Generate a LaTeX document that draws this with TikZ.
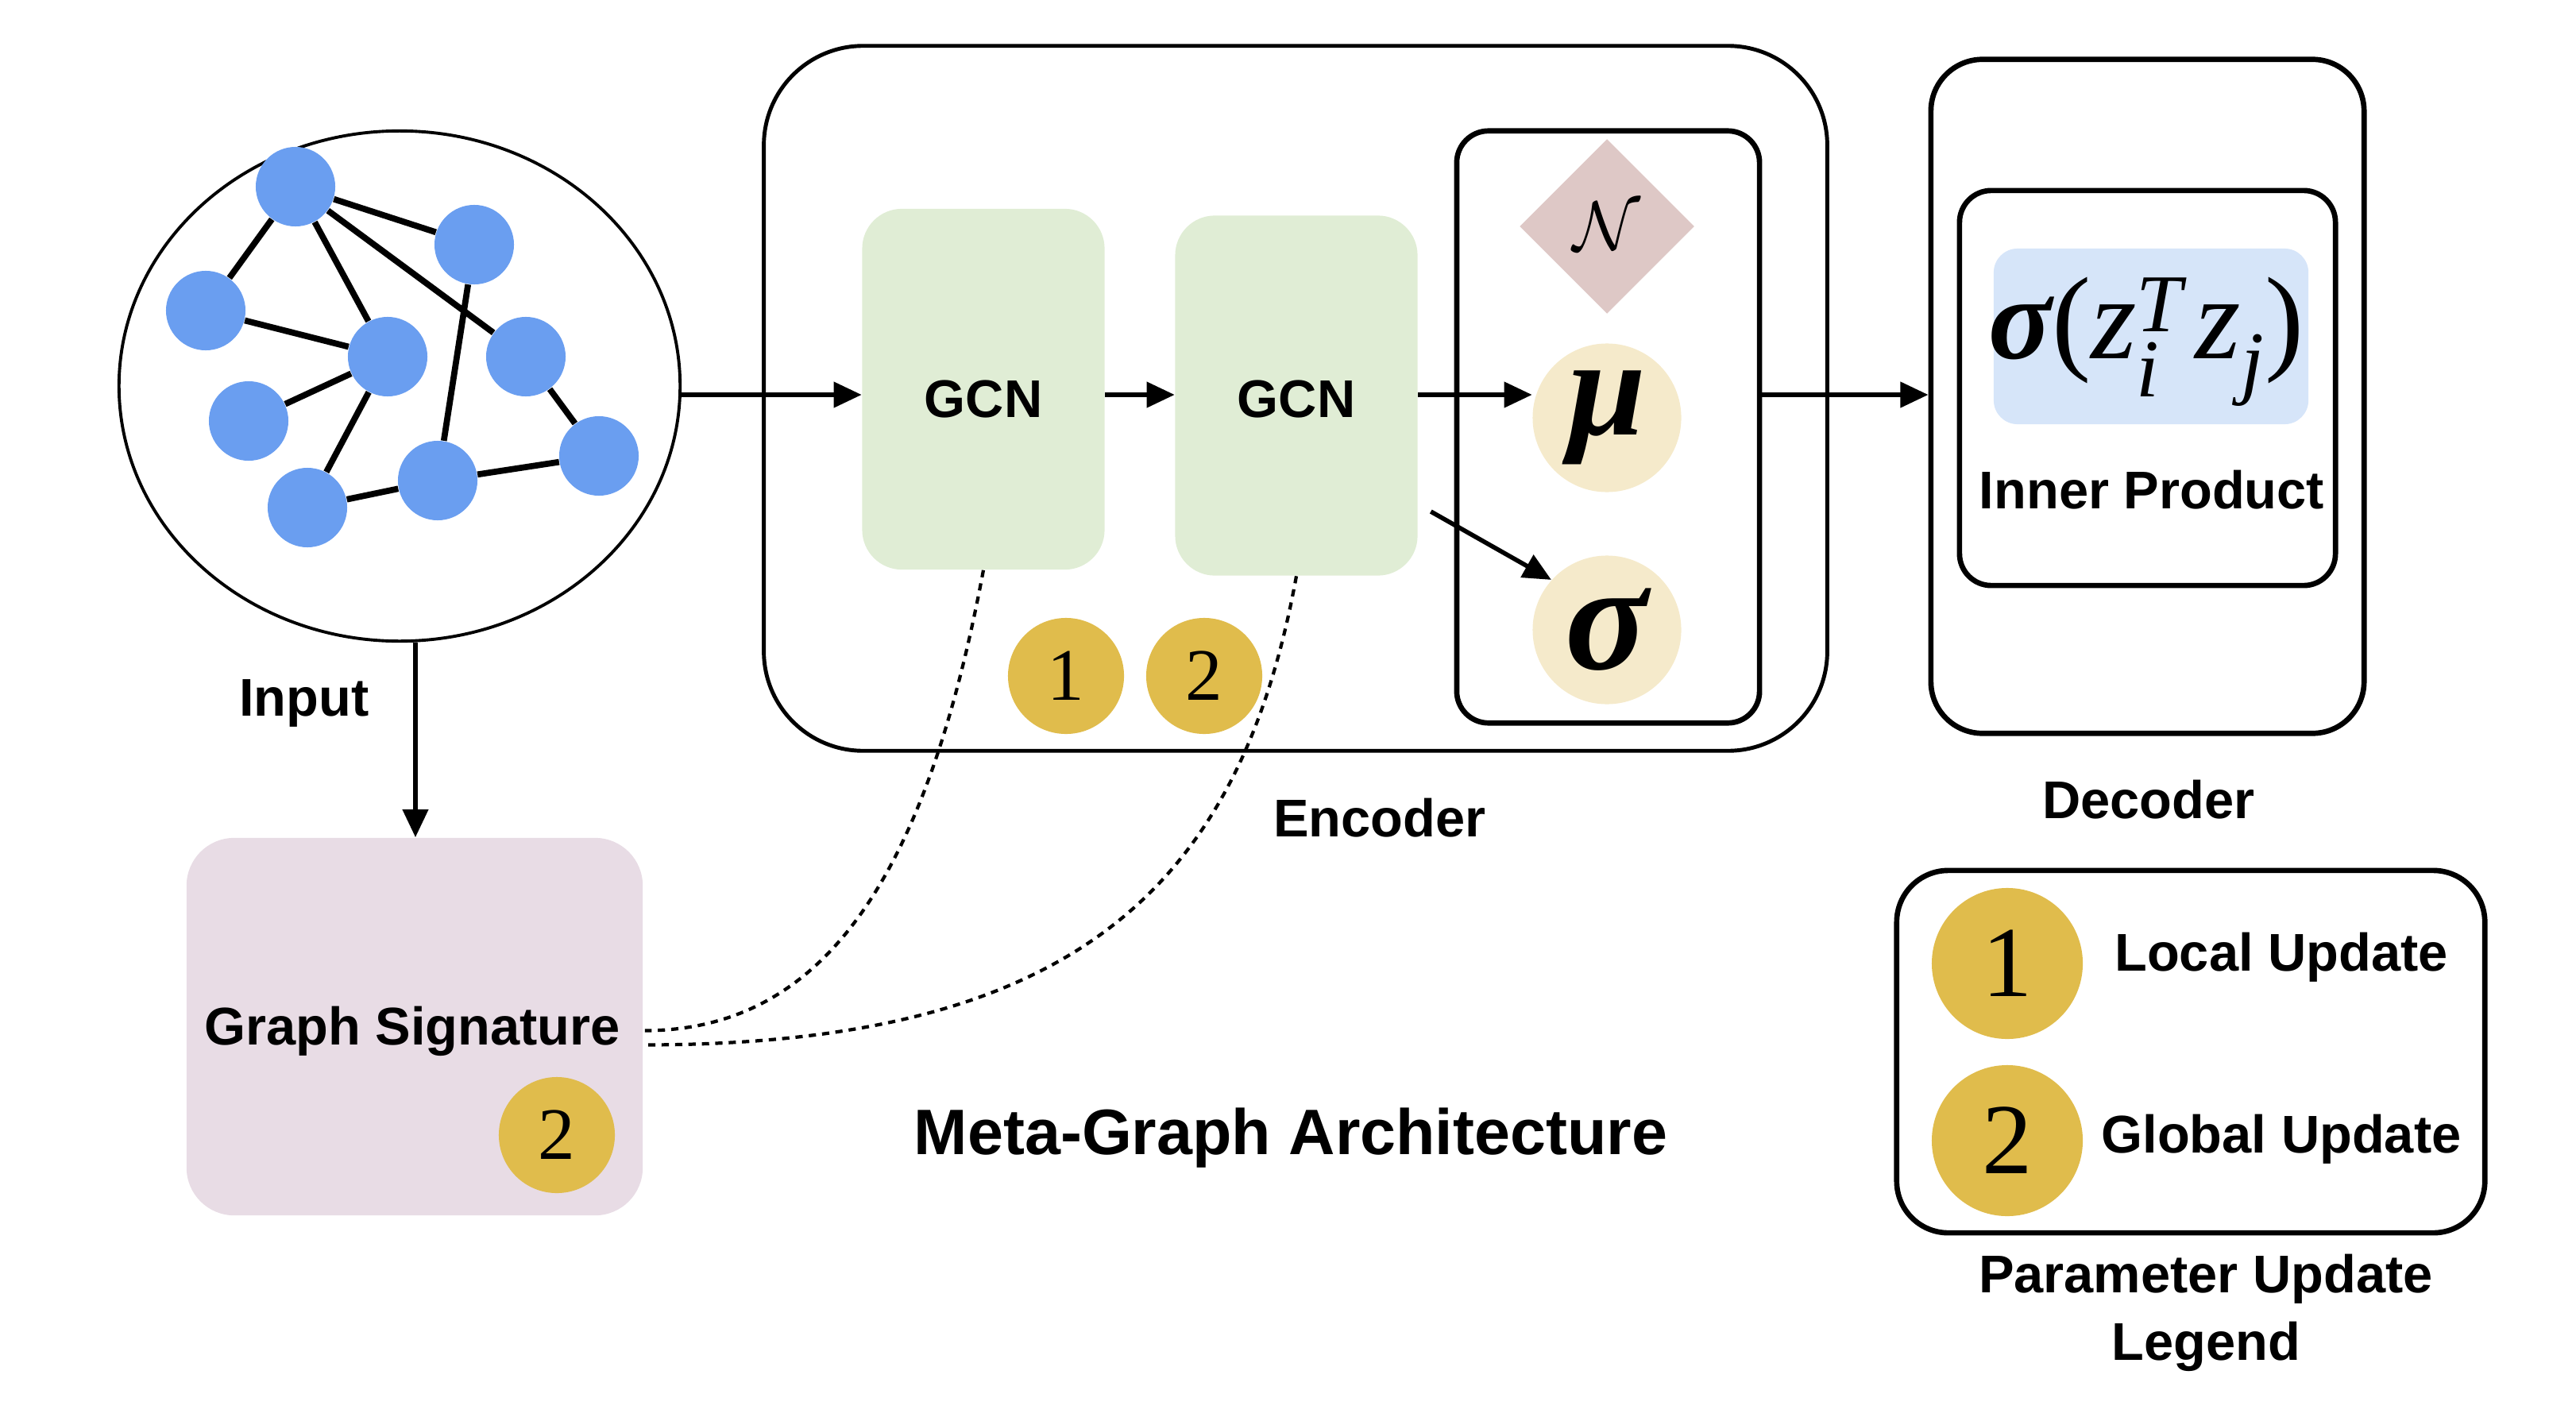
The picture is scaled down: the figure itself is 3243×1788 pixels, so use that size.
\documentclass[tikz,border=0pt]{standalone}
\usepackage{amsmath}
\usepackage{fontspec}
\setmainfont{Liberation Sans}
\newfontfamily\tms{Liberation Serif}
\usetikzlibrary{shapes.geometric,arrows.meta,calc}
\definecolor{nodeblue}{RGB}{106,158,240}
\definecolor{gcnfill}{RGB}{224,237,213}
\definecolor{gsfill}{RGB}{232,220,229}
\definecolor{badgec}{RGB}{224,188,76}
\definecolor{mufill}{RGB}{245,234,203}
\definecolor{nfill}{RGB}{222,200,198}
\definecolor{bluefill}{RGB}{214,229,249}
\newcommand\ti[1]{\text{\tms\itshape #1}}
\begin{document}
\begin{tikzpicture}[x=0.01cm,y=-0.01cm,
  gnode/.style={circle,fill=nodeblue,minimum size=1cm,inner sep=0},
  gedge/.style={line width=2.2pt},
  arr/.style={line width=1.6pt,-{Triangle[length=10pt,width=9pt]}},
  lab/.style={font=\fontsize{19pt}{23pt}\selectfont\bfseries,inner sep=0},
  badge/.style={circle,fill=badgec,inner sep=0,minimum size=1.46cm,font=\tms\fontsize{26.5pt}{30pt}\selectfont},
  bigbadge/.style={badge,minimum size=1.9cm,font=\tms\fontsize{36pt}{40pt}\selectfont},
  dsh/.style={line width=1.2pt,dash pattern=on 2.6pt off 2.2pt},
  gcnbox/.style={fill=gcnfill,rounded corners=0.5cm,minimum width=3.05cm,minimum height=4.54cm,inner sep=0},
  frame/.style={draw,line width=1.9pt,inner sep=0},
]
\useasboundingbox (0,0) rectangle (3243,1788);

% input graph
\node[ellipse,draw,line width=1.1pt,minimum width=7.06cm,minimum height=6.42cm,inner sep=0] (inp) at (503,486) {};
\node[gnode] (n1) at (372,235) {};
\node[gnode] (n2) at (597,308) {};
\node[gnode] (n3) at (259,391) {};
\node[gnode] (n4) at (488,449) {};
\node[gnode] (n5) at (662,449) {};
\node[gnode] (n6) at (313,530) {};
\node[gnode] (n7) at (754,574) {};
\node[gnode] (n8) at (387,639) {};
\node[gnode] (n9) at (551,605) {};
\foreach \a/\b in {n1/n3,n1/n2,n1/n4,n1/n5,n2/n9,n3/n4,n4/n6,n4/n8,n8/n9,n9/n7,n5/n7}
  \draw[gedge] (\a) -- (\b);
\node[lab] (inlab) at (383,885) {Input};

% encoder
\node[draw,line width=1.4pt,rounded corners=1.25cm,minimum width=13.38cm,minimum height=8.87cm,inner sep=0] (enc) at (1631,501.5) {};
\node[gcnbox] (g1) at (1238,490) {};
\node[lab] (g1t) at (1238,502) {GCN};
\node[gcnbox,minimum height=4.53cm] (g2) at (1632,498) {};
\node[lab] (g2t) at (1632,502) {GCN};
\node[frame,rounded corners=0.4cm,minimum width=3.81cm,minimum height=7.45cm] (ib) at (2024.5,537.5) {};
\node[diamond,fill=nfill,minimum width=2.2cm,minimum height=2.2cm,inner sep=0] (nn) at (2023,285) {\fontsize{34pt}{36pt}\selectfont$\mathcal{N}$};
\node[circle,fill=mufill,minimum size=1.87cm,inner sep=0] (mu) at (2023,526) {\tms\bfseries\itshape\fontsize{50pt}{52pt}\selectfont μ};
\node[circle,fill=mufill,minimum size=1.87cm,inner sep=0] (sig) at (2023,793) {\tms\bfseries\itshape\fontsize{55pt}{57pt}\selectfont σ};
\node[badge] (b1) at (1342,851) {1};
\node[badge] (b2) at (1516,851) {2};
\node[lab] (enclab) at (1737,1030) {Encoder};

% decoder
\node[frame,rounded corners=0.65cm,minimum width=5.45cm,minimum height=8.48cm] (dec) at (2703.5,499) {};
\node[frame,rounded corners=0.4cm,minimum width=4.73cm,minimum height=4.97cm] (ip) at (2703.5,488.5) {};
\node[fill=bluefill,rounded corners=0.3cm,minimum width=3.96cm,minimum height=2.21cm,inner sep=0] (fb) at (2708,423.5) {};
\node[inner sep=0] (form) at (2702,430) {\fontsize{42pt}{46pt}\selectfont$\text{\tms\bfseries\itshape σ}\text{\tms (}\ti{z}_{\ti{i}}^{\ti{T}}\,\ti{z}_{\ti{j}}\text{\tms )}$};
\node[lab] (iplab) at (2709,617) {Inner Product};
\node[lab] (declab) at (2705,1007) {Decoder};

% graph signature
\node[fill=gsfill,rounded corners=0.6cm,minimum width=5.74cm,minimum height=4.75cm,inner sep=0] (gs) at (522,1292.5) {};
\node[lab] (gslab) at (519,1298) {Graph Signature};
\node[badge] (b3) at (701,1429) {2};

% title
\node[font=\fontsize{23pt}{27pt}\selectfont\bfseries,inner sep=0] (title) at (1625,1433) {Meta-Graph Architecture};

% legend
\node[draw,line width=1.9pt,rounded corners=0.65cm,minimum width=7.40cm,minimum height=4.56cm,inner sep=0] (leg) at (2758,1324) {};
\node[bigbadge] (l1) at (2527,1213) {1};
\node[bigbadge] (l2) at (2527,1436) {2};
\node[lab] (l1t) at (2872,1205) {Local Update};
\node[lab] (l2t) at (2872,1434) {Global Update};
\node[lab,align=center,font=\fontsize{19pt}{24pt}\selectfont\bfseries] (legt) at (2777,1653) {Parameter Update\\Legend};

% arrows
\coordinate (ay) at (0,497);
\coordinate (ax) at (523,0);
\draw[arr] (inp.east |- ay) -- (g1.west |- ay);
\draw[arr] (g1.east |- ay) -- (g2.west |- ay);
\draw[arr] (g2.east |- ay) -- (mu.west |- ay);
\draw[arr] ($(g2.east)+(16,146)$) -- (sig.138);
\draw[arr] (ib.east |- ay) -- (dec.west |- ay);
\draw[arr] (inp.south -| ax) -- (gs.north -| ax);

% dashed links
\draw[dsh] (g1.south) .. controls (1170,1080) and (1050,1297) .. ($(gs.east)+(2,5)$);
\draw[dsh] (g2.south) .. controls (1560,1120) and (1350,1315) .. ($(gs.east)+(2,23)$);
\end{tikzpicture}
\end{document}
